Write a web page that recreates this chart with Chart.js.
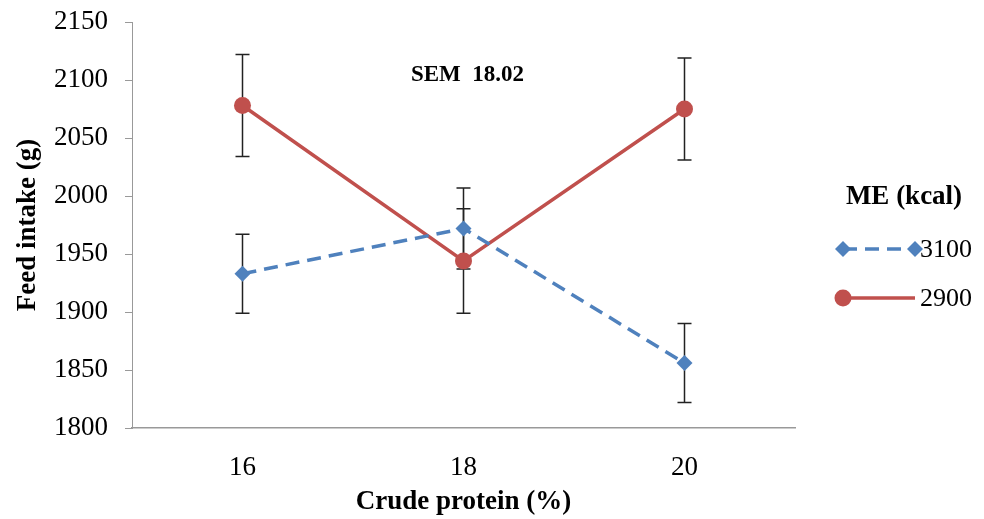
<!DOCTYPE html>
<html>
<head>
<meta charset="utf-8">
<title>Feed intake</title>
<script src="https://cdn.jsdelivr.net/npm/chart.js@4/dist/chart.umd.min.js"></script>
<style>
  html, body { margin: 0; padding: 0; background: #fff; }
  #wrap { width: 984px; height: 519px; }
</style>
</head>
<body>
<div id="wrap"><canvas id="chart" width="984" height="519"></canvas></div>
<script>
var proteinLevels = ['16', '18', '20'];
var seriesNames = ['3100', '2900'];
var intake3100 = [1933, 1972, 1856];
var intake2900 = [2078, 1944, 2075];
var err3100 = [34, 35, 34];
var err2900 = [44, 45, 44];
var yTicks = [1800, 1850, 1900, 1950, 2000, 2050, 2100, 2150];
var semLabel = 'SEM  18.02';
var legendTitle = 'ME (kcal)';

var SERIF = '"Liberation Serif", "Times New Roman", serif';
var BLUE = '#4F81BD';
var RED = '#C0504D';

// error bars drawn behind the lines, from each dataset's errors array
var errorBars = {
    id: 'errorBars',
    beforeDatasetsDraw: function (chart) {
        var ctx = chart.ctx;
        var y = chart.scales.y;
        ctx.save();
        ctx.strokeStyle = '#222';
        ctx.lineWidth = 1.5;
        chart.data.datasets.forEach(function (ds, i) {
            var meta = chart.getDatasetMeta(i);
            meta.data.forEach(function (pt, j) {
                var top = y.getPixelForValue(ds.data[j] + ds.errors[j]);
                var bot = y.getPixelForValue(ds.data[j] - ds.errors[j]);
                ctx.beginPath();
                ctx.moveTo(pt.x, top); ctx.lineTo(pt.x, bot);
                ctx.moveTo(pt.x - 7, top); ctx.lineTo(pt.x + 7, top);
                ctx.moveTo(pt.x - 7, bot); ctx.lineTo(pt.x + 7, bot);
                ctx.stroke();
            });
        });
        ctx.restore();
    }
};

function drawMarker(ctx, style, x, y, r, color) {
    ctx.fillStyle = color;
    ctx.beginPath();
    if (style === 'circle') {
        ctx.arc(x, y, r, 0, Math.PI * 2);
    } else {
        ctx.moveTo(x, y - r); ctx.lineTo(x + r, y);
        ctx.lineTo(x, y + r); ctx.lineTo(x - r, y);
        ctx.closePath();
    }
    ctx.fill();
}

// SEM note and the Excel-like legend on the right
var extras = {
    id: 'extras',
    afterDraw: function (chart) {
        var ctx = chart.ctx;
        var xs = chart.scales.x, ys = chart.scales.y;
        ctx.save();
        ctx.fillStyle = '#000';
        ctx.textBaseline = 'middle';
        ctx.textAlign = 'center';
        ctx.font = 'bold 23px ' + SERIF;
        ctx.fillText(semLabel, xs.getPixelForValue(1) + 4, ys.getPixelForValue(2104));

        var lx = 843, rx = 915, ly = 249;
        ctx.font = 'bold 27px ' + SERIF;
        ctx.fillText(legendTitle, 904, 197);
        ctx.textAlign = 'left';
        ctx.font = '26px ' + SERIF;
        chart.data.datasets.forEach(function (ds, i) {
            var yy = ly + i * 49;
            ctx.strokeStyle = ds.borderColor;
            ctx.lineWidth = ds.borderWidth;
            ctx.setLineDash(ds.borderDash || []);
            ctx.beginPath();
            ctx.moveTo(lx, yy); ctx.lineTo(rx, yy);
            ctx.stroke();
            ctx.setLineDash([]);
            drawMarker(ctx, ds.pointStyle, lx, yy, ds.pointRadius, ds.backgroundColor);
            if (ds.pointStyle !== 'circle') {
                drawMarker(ctx, ds.pointStyle, rx, yy, ds.pointRadius, ds.backgroundColor);
            }
            ctx.fillStyle = '#000';
            ctx.fillText(ds.label, rx + 5, yy + 1);
        });
        ctx.restore();
    }
};

new Chart(document.getElementById('chart'), {
    type: 'line',
    data: {
        labels: proteinLevels,
        datasets: [{
            label: seriesNames[0],
            data: intake3100,
            errors: err3100,
            borderColor: BLUE,
            backgroundColor: BLUE,
            borderWidth: 3.5,
            borderDash: [14, 8],
            pointStyle: 'rectRot',
            pointRadius: 8,
            pointBorderWidth: 0,
            tension: 0
        }, {
            label: seriesNames[1],
            data: intake2900,
            errors: err2900,
            borderColor: RED,
            backgroundColor: RED,
            borderWidth: 3.5,
            pointStyle: 'circle',
            pointRadius: 8.5,
            pointBorderWidth: 0,
            tension: 0
        }]
    },
    options: {
        responsive: false,
        animation: false,
        layout: { padding: { top: 22, right: 189, left: 0, bottom: 0 } },
        plugins: { legend: { display: false }, tooltip: { enabled: false } },
        scales: {
            x: {
                offset: true,
                afterFit: function (s) { s.height = 91; },
                grid: { display: false, drawTicks: false },
                border: { display: true, color: '#999', width: 1.5 },
                ticks: { color: '#000', padding: 24, font: { family: SERIF, size: 27 } },
                title: {
                    display: true, text: 'Crude protein (%)', color: '#000',
                    padding: { top: 0, bottom: 1 },
                    font: { family: SERIF, size: 27, weight: 'bold' }
                }
            },
            y: {
                min: yTicks[0],
                max: yTicks[yTicks.length - 1],
                afterFit: function (s) {
                    s.width = 132;
                    s.paddingTop = 0;
                    s.paddingBottom = 0;
                },
                afterBuildTicks: function (s) {
                    s.ticks = yTicks.map(function (v) { return { value: v }; });
                },
                grid: { drawOnChartArea: false, drawTicks: true, tickLength: 7, color: '#999' },
                border: { display: true, color: '#999', width: 1, dash: [5, 3] },
                ticks: {
                    color: '#000', padding: 17, font: { family: SERIF, size: 27 },
                    callback: function (v) { return String(v); }
                },
                title: {
                    display: true, text: 'Feed intake (g)', color: '#000',
                    padding: { top: 12, bottom: 0 },
                    font: { family: SERIF, size: 27, weight: 'bold' }
                }
            }
        }
    },
    plugins: [errorBars, extras]
});
</script>
</body>
</html>
